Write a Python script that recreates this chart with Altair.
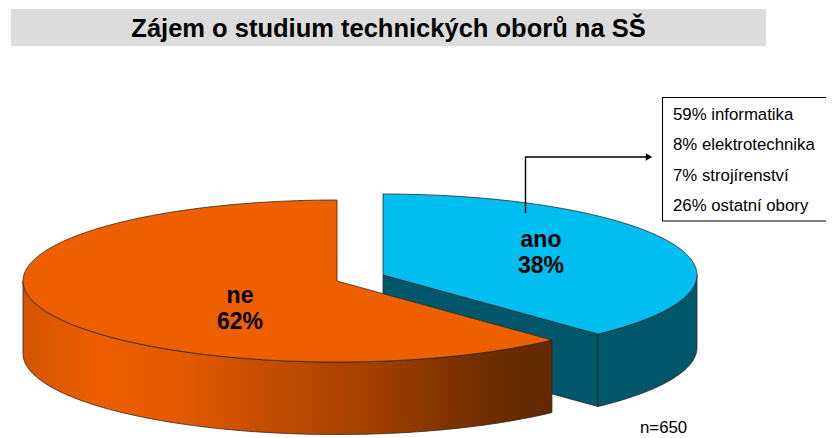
import numpy as np
import pandas as pd
import altair as alt

TITLE = "Zájem o studium technických oborů na SŠ"
SHARE_ANO = 38
SHARE_NE = 62
LABELS = ["ano", "ne"]
DETAIL = ["59% informatika", "8% elektrotechnika", "7% strojírenství", "26% ostatní obory"]
NOTE = "n=650"

# pie projection
RX, RY, DEPTH = 314.0, 81.0, 72.5
CX_NE, CY_NE = 337.0, 281.0
CX_ANO, CY_ANO = 383.0, 275.0
FONT = "Liberation Sans"

sx = alt.Scale(domain=[8, 826], nice=False, zero=False)
sy = alt.Scale(domain=[436, 8], nice=False, zero=False)
X = alt.X("x:Q", scale=sx, axis=None)
Y = alt.Y("y:Q", scale=sy, axis=None)

cut = np.radians(SHARE_ANO / (SHARE_ANO + SHARE_NE) * 360.0)


def ell_x(cx, t):
    return cx + RX * np.sin(t)


def ell_y(cy, t):
    return cy - RY * np.cos(t)


def area(df, fill, stroke="#2e2620", sw=0.8):
    return alt.Chart(pd.DataFrame(df)).mark_area(
        color=fill, stroke=stroke, strokeWidth=sw, interpolate="linear"
    ).encode(x=X, y=Y, y2="y2:Q")


# blue cut face
xc_a = ell_x(CX_ANO, cut)
yc_a = ell_y(CY_ANO, cut)
xs = np.linspace(CX_ANO, xc_a, 10)
ys = CY_ANO + (yc_a - CY_ANO) * (xs - CX_ANO) / (xc_a - CX_ANO)
blue_cut = area({"x": xs, "y": ys, "y2": ys + DEPTH}, "#00566B")

# blue outer wall
t = np.linspace(np.pi / 2, cut, 60)
yy = ell_y(CY_ANO, t)
blue_wall = area({"x": ell_x(CX_ANO, t), "y": yy, "y2": yy + DEPTH}, "#00566B")

# blue top
t = np.linspace(0, np.pi / 2, 160)
xs = np.unique(np.append(ell_x(CX_ANO, t), xc_a))
u = np.clip((xs - CX_ANO) / RX, 0, 1)
upper = CY_ANO - RY * np.sqrt(1 - u ** 2)
lower = np.minimum(
    CY_ANO + (yc_a - CY_ANO) * (xs - CX_ANO) / (xc_a - CX_ANO),
    CY_ANO + RY * np.sqrt(1 - u ** 2),
)
blue_top = area({"x": xs, "y": upper, "y2": lower}, "#00BEF0")

# orange outer wall with gradient
wall_grad = alt.LinearGradient(
    gradient="linear", x1=0, x2=1, y1=0, y2=0,
    stops=[
        alt.GradientStop(color="#D25500", offset=0.0),
        alt.GradientStop(color="#EE5E00", offset=0.14),
        alt.GradientStop(color="#E65B00", offset=0.28),
        alt.GradientStop(color="#C64E00", offset=0.45),
        alt.GradientStop(color="#A34000", offset=0.65),
        alt.GradientStop(color="#6E2D00", offset=0.88),
        alt.GradientStop(color="#602800", offset=1.0),
    ],
)
t = np.linspace(cut, 1.5 * np.pi, 160)
yy = ell_y(CY_NE, t)
orange_wall = area({"x": ell_x(CX_NE, t), "y": yy, "y2": yy + DEPTH}, wall_grad)

# orange top
xc_n = ell_x(CX_NE, cut)
yc_n = ell_y(CY_NE, cut)
t = np.linspace(-np.pi / 2, 0, 160)
xl = ell_x(CX_NE, t)
ul = ell_y(CY_NE, t)
xr = np.linspace(CX_NE + 0.01, xc_n, 120)
ur = CY_NE + (yc_n - CY_NE) * (xr - CX_NE) / (xc_n - CX_NE)
xs = np.concatenate([xl, xr])
upper = np.concatenate([ul, ur])
lower = CY_NE + RY * np.sqrt(np.clip(1 - ((xs - CX_NE) / RX) ** 2, 0, 1))
orange_top = area({"x": xs, "y": upper, "y2": lower}, "#EE5F00")

# title band
band = alt.Chart(pd.DataFrame({"x": [11], "x2": [766], "y": [9], "y2": [46]})).mark_rect(
    color="#DCDCDC"
).encode(x=X, x2="x2:Q", y=Y, y2="y2:Q")


def texts(items, size, bold=False, align="center"):
    df = pd.DataFrame(items, columns=["x", "y", "t"])
    return alt.Chart(df).mark_text(
        font=FONT, fontSize=size, fontWeight="bold" if bold else "normal",
        align=align, baseline="middle", color="#000000",
    ).encode(x=X, y=Y, text="t:N")


title = texts([(388.5, 28.5, TITLE)], 25.5, bold=True)
pie_labels = texts(
    [(541, 240, LABELS[0]), (541, 266, f"{SHARE_ANO}%"),
     (240, 296, LABELS[1]), (240, 322, f"{SHARE_NE}%")],
    23, bold=True,
)
note = texts([(640, 428, NOTE)], 16.8, align="left")

# detail box (runs past the right edge of the picture)
box = alt.Chart(pd.DataFrame({"x": [662.5], "x2": [840], "y": [97.5], "y2": [221]})).mark_rect(
    fill="#FFFFFF", stroke="#000000", strokeWidth=1.1
).encode(x=X, x2="x2:Q", y=Y, y2="y2:Q")
box_text = texts([(673, yy_, s) for yy_, s in zip([115, 145, 176, 206], DETAIL)], 16.8, align="left")

# leader arrow
leader = alt.Chart(pd.DataFrame({"x": [525.5, 525.5, 648], "y": [213, 157, 157], "o": [0, 1, 2]})).mark_line(
    color="#000000", strokeWidth=1.4
).encode(x=X, y=Y, order="o:Q")
head = alt.Chart(pd.DataFrame({"x": [649], "y": [157]})).mark_point(
    shape="triangle-right", filled=True, color="#000000", size=55, opacity=1
).encode(x=X, y=Y)

chart = alt.layer(
    band, title, blue_cut, blue_wall, blue_top, orange_wall, orange_top,
    pie_labels, note, box, box_text, leader, head,
).properties(
    width=818, height=428, padding=0, autosize=alt.AutoSizeParams(type="none"),
    background="#FFFFFF",
).configure_view(stroke=None)

chart.save("out.html", embed_options={"renderer": "svg", "actions": False})
